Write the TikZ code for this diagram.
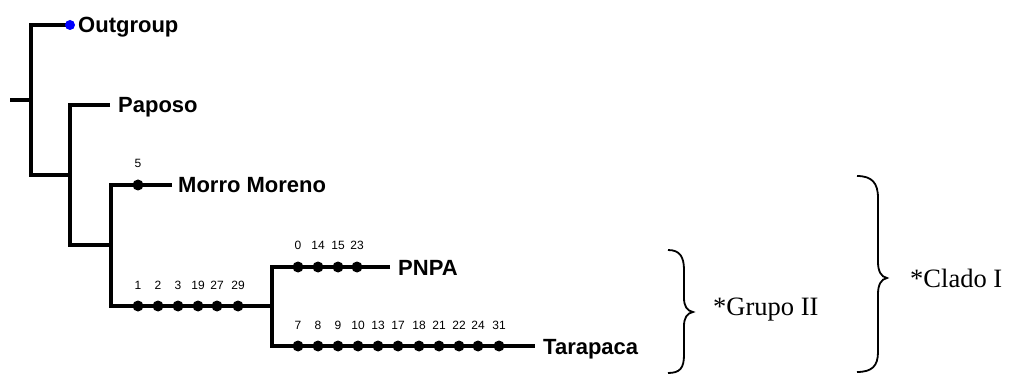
\documentclass[tikz,border=0pt]{standalone}
\usepackage{fontspec}
\setmainfont{Liberation Sans}
\newfontfamily\serifface{Liberation Serif}
\begin{document}
\begin{tikzpicture}[x=1pt,y=-1pt,
  branch/.style={line width=3.2pt, line join=miter},
  change/.style={circle, fill=black, inner sep=0pt, minimum size=11pt},
  rootmark/.style={circle, fill=blue, inner sep=0pt, minimum size=10pt},
  taxon/.style={anchor=base west, inner sep=0pt, font=\bfseries\fontsize{22}{22}\selectfont},
  site/.style={anchor=base, inner sep=0pt, font=\fontsize{12}{12}\selectfont},
  cladelabel/.style={anchor=base west, inner sep=0pt, font=\serifface\fontsize{26.5}{26.5}\selectfont},
  bracket/.style={line width=1.8pt}]
\useasboundingbox (0,0) rectangle (1020,374);

% internal nodes of the tree
\coordinate (stub) at (10,100);
\coordinate (n0) at (31,100);
\coordinate (n1) at (70,175);
\coordinate (n2) at (111,245);
\coordinate (n3) at (272,306);
% branch tips
\coordinate (out) at (70,25);
\coordinate (pap) at (110,105);
\coordinate (mor) at (172,185);
\coordinate (pnpa) at (390,267);
\coordinate (tar) at (535,346);

% branches
\draw[branch] (stub) -- (n0);
\draw[branch] (out) -| (n0) |- (n1);
\draw[branch] (pap) -| (n1) |- (n2);
\draw[branch] (mor) -| (n2) |- (n3);
\draw[branch] (pnpa) -| (n3) |- (tar);

% outgroup marker
\node[rootmark] (outdot) at (out) {};

% character changes along each branch: x position / site number
\foreach \x/\s [count=\i] in {138/5}
  {\node[change] (m\i) at (\x,185) {};
   \node[site] (ml\i) at (\x,168) {\s};}
\foreach \x/\s [count=\i] in {138/1,158/2,178/3,198/19,217/27,238/29}
  {\node[change] (c\i) at (\x,306) {};
   \node[site] (cl\i) at (\x,289) {\s};}
\foreach \x/\s [count=\i] in {298/0,318/14,338/15,357/23}
  {\node[change] (p\i) at (\x,267) {};
   \node[site] (pl\i) at (\x,250) {\s};}
\foreach \x/\s [count=\i] in {298/7,318/8,338/9,358/10,378/13,398/17,419/18,439/21,459/22,478/24,499/31}
  {\node[change] (t\i) at (\x,346) {};
   \node[site] (tl\i) at (\x,329) {\s};}

% taxon names
\node[taxon] (outlab) at (78,33) {Outgroup};
\node[taxon] (paplab) at (118,113) {Paposo};
\node[taxon] (morlab) at (178,193) {Morro Moreno};
\node[taxon] (pnpalab) at (398,275) {PNPA};
\node[taxon] (tarlab) at (543,354) {Tarapaca};

% clade brackets
\draw[bracket] (668,250) .. controls (680,250) and (684,257) .. (684,270)
  -- (684,298) .. controls (684,306) and (687,311) .. (693,312)
  .. controls (687,313) and (684,318) .. (684,326)
  -- (684,355) .. controls (684,368) and (680,373) .. (668,373);
\node[cladelabel] (grupo) at (713,315) {*Grupo II};

\draw[bracket] (857,176) .. controls (872,176) and (878,183) .. (878,198)
  -- (878,262) .. controls (878,271) and (881,277) .. (887,278)
  .. controls (881,279) and (878,285) .. (878,294)
  -- (878,352) .. controls (878,366) and (872,372) .. (857,372);
\node[cladelabel] (clado) at (910,287) {*Clado I};
\end{tikzpicture}
\end{document}
